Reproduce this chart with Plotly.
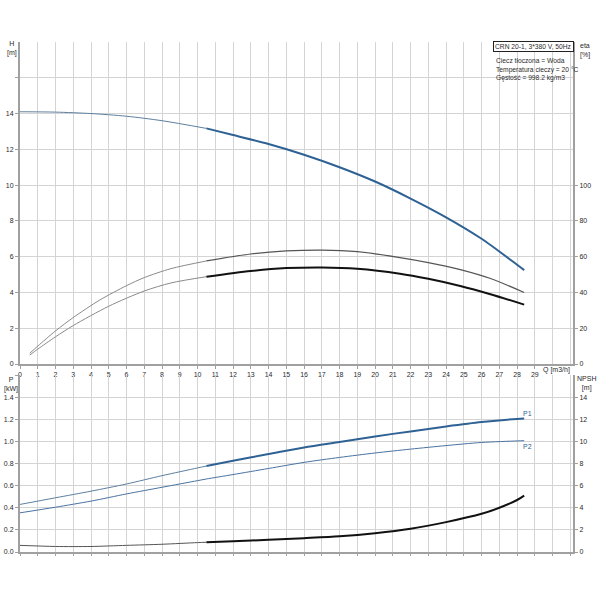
import numpy as np
import plotly.graph_objects as go

# ---------------- data ----------------
q_h = [0, 2, 4, 6, 8, 10.5, 12, 14, 16, 18, 20, 22, 24, 26, 28, 28.4]
h_vals = [14.1, 14.08, 14.0, 13.85, 13.6, 13.17, 12.8, 12.3, 11.7, 11.0, 10.2, 9.25, 8.2, 7.0, 5.55, 5.25]

q_e1 = [0.55, 1, 2, 3, 4.5, 6, 7, 8.5, 10.5, 13, 15, 17, 19, 21.4, 23, 24.8, 26.5, 28.4]
eta1 = [6, 10, 18.5, 26, 35.8, 43.8, 48.3, 53.3, 57.6, 61.5, 63.2, 63.7, 62.8, 59.5, 56.7, 52.8, 47.8, 40.0]

q_e2 = [0.55, 1, 2, 3, 5, 7, 8.5, 10.5, 13, 15, 17, 19, 21.4, 23, 24.8, 26.5, 28.4]
eta2 = [5, 8.3, 15.2, 21.5, 32.3, 40.8, 45.3, 48.8, 52.0, 53.6, 54.0, 53.3, 50.5, 47.6, 43.6, 39.0, 33.2]

q_p = [0, 2, 4, 6, 8, 10, 10.5, 12, 14, 16, 18, 20, 22, 24, 26, 28, 28.4]
p1 = [0.43, 0.49, 0.55, 0.615, 0.69, 0.76, 0.777, 0.825, 0.885, 0.945, 0.995, 1.045, 1.09, 1.135, 1.175, 1.203, 1.206]
p2 = [0.354, 0.405, 0.46, 0.525, 0.585, 0.645, 0.66, 0.70, 0.755, 0.81, 0.855, 0.895, 0.93, 0.962, 0.99, 1.004, 1.006]

q_n = [0, 2, 4, 6, 8, 10, 10.5, 12, 14, 16, 18, 20, 22, 24, 26, 27, 28, 28.4]
npsh = [0.6, 0.5, 0.5, 0.6, 0.7, 0.85, 0.88, 0.98, 1.1, 1.25, 1.42, 1.7, 2.1, 2.7, 3.45, 4.0, 4.7, 5.1]

x_ticks = list(range(0, 30))
h_ticks = [0, 2, 4, 6, 8, 10, 12, 14, 16]
eta_ticks = [0, 20, 40, 60, 80, 100]
p_ticks = [0.0, 0.2, 0.4, 0.6, 0.8, 1.0, 1.2, 1.4, 1.6]
npsh_ticks = [0, 2, 4, 6, 8, 10, 12, 14]

Q_SPLIT = 10.5

# ---------------- layout helpers (window pixels) ----------------
FW = FH = 600
L, R, T, B = 20, 27, 42, 48
W = FW - L - R
HH = FH - T - B


def px(x):
    return (x - L) / W


def py(y):
    return (FH - B - y) / HH


def split(q, v):
    q = np.asarray(q, float)
    v = np.asarray(v, float)
    a = q <= Q_SPLIT
    b = q >= Q_SPLIT
    return (q[a], v[a]), (q[b], v[b])


fig = go.Figure()

BLUE = "#2f6294"
THIN_BLUE = "#5d7f9f"


def add(q, v, color, width, xa, ya, name):
    fig.add_trace(go.Scatter(x=q, y=v, mode="lines",
                             line=dict(color=color, width=width, shape="spline", smoothing=0.8),
                             xaxis=xa, yaxis=ya, showlegend=False, hoverinfo="skip", name=name))


(a, b) = split(q_h, h_vals)
add(*a, THIN_BLUE, 1, "x", "y", "H")
add(*b, BLUE, 2, "x", "y", "H")

(a, b) = split(q_e1, eta1)
add(*a, "#8a8a8a", 1, "x", "y2", "eta1")
add(*b, "#555555", 1.2, "x", "y2", "eta1")

(a, b) = split(q_e2, eta2)
add(*a, "#8a8a8a", 1, "x", "y2", "eta2")
add(*b, "#111111", 2, "x", "y2", "eta2")

(a, b) = split(q_p, p1)
add(*a, THIN_BLUE, 1, "x2", "y3", "P1")
add(*b, BLUE, 2, "x2", "y3", "P1")

add(q_p, p2, "#4a72a0", 1, "x2", "y3", "P2")

(a, b) = split(q_n, npsh)
add(*a, "#555555", 1, "x2", "y4", "NPSH")
add(*b, "#111111", 2, "x2", "y4", "NPSH")

FONT = dict(family="Liberation Sans, Arial, sans-serif", size=7, color="#2a2a2a")
SMALL = dict(family="Liberation Sans, Arial, sans-serif", size=6.7, color="#2a2a2a")
GRID = "#d4d4d4"
AXL = "#a0a0a0"

top_dom = [py(364), 1.0]
bot_dom = [0.0, py(375)]
xr = [0, 31.15]

common = dict(automargin=False, zeroline=False, tickfont=FONT)

fig.update_layout(
    width=FW, height=FH,
    margin=dict(l=L, r=R, t=T, b=B, autoexpand=False),
    paper_bgcolor="white", plot_bgcolor="white",
    font=FONT,
    xaxis=dict(domain=[0, 1], range=xr, anchor="y", tickvals=x_ticks, ticktext=[str(v) for v in x_ticks],
               showgrid=False, showline=True, linecolor=AXL, linewidth=2, ticks="outside", ticklen=3,
               tickcolor=AXL, **common),
    xaxis3=dict(domain=[0, 1], range=xr, anchor="y", overlaying="x", dtick=1, tick0=0, showticklabels=False,
                showgrid=True, gridcolor=GRID, gridwidth=1, showline=False, ticks="", **common),
    yaxis=dict(domain=top_dom, range=[0, 18], anchor="x", tickvals=h_ticks,
               ticktext=[str(v) if v <= 14 else "" for v in h_ticks],
               showgrid=True, gridcolor=GRID, showline=True, linecolor=AXL, linewidth=2,
               ticks="outside", ticklen=3, tickcolor=AXL, **common),
    yaxis2=dict(overlaying="y", side="right", range=[0, 180], anchor="x", tickvals=eta_ticks,
                showgrid=False, showline=True, linecolor=AXL, linewidth=2,
                ticks="outside", ticklen=3, tickcolor=AXL, **common),
    xaxis2=dict(domain=[0, 1], range=xr, anchor="y3", dtick=1, tick0=0, showticklabels=False,
                showgrid=True, gridcolor=GRID, showline=True, linecolor=AXL, linewidth=2,
                ticks="outside", ticklen=2, tickcolor=AXL, **common),
    yaxis3=dict(domain=bot_dom, range=[0, 1.6], anchor="x2", tickvals=p_ticks,
                ticktext=["%.1f" % v if v < 1.5 else "" for v in p_ticks],
                showgrid=True, gridcolor=GRID, showline=True, linecolor=AXL, linewidth=2,
                ticks="outside", ticklen=3, tickcolor=AXL, **common),
    yaxis4=dict(overlaying="y3", side="right", range=[0, 16], anchor="x2", tickvals=npsh_ticks,
                showgrid=False, showline=True, linecolor=AXL, linewidth=2,
                ticks="outside", ticklen=3, tickcolor=AXL, **common),
)

# invisible helper trace so the grid axis (x3) is drawn
fig.add_trace(go.Scatter(x=[0], y=[0], xaxis="x3", yaxis="y", mode="markers",
                         marker=dict(opacity=0), showlegend=False, hoverinfo="skip"))

ann = []


def note(text, x, y, xanchor="center", yanchor="middle", align="center", font=FONT, **kw):
    ann.append(dict(text=text, x=px(x), y=py(y), xref="paper", yref="paper", showarrow=False,
                    xanchor=xanchor, yanchor=yanchor, align=align, font=font, **kw))


note("H<br>[m]", 12, 49)
note("eta<br>[%]", 578, 50, xanchor="left", align="left")
note("Q [m3/h]", 572, 370, xanchor="right")
note("P<br>[kW]", 11, 384)
note("NPSH<br>[m]", 598, 383, xanchor="right")
note("CRN 20-1, 3*380 V, 50Hz", 574, 41, xanchor="right", yanchor="top", font=SMALL,
     bordercolor="#222222", borderwidth=1, borderpad=1, bgcolor="white")
note("Ciecz tłoczona = Woda<br>Temperatura cieczy = 20 °C<br>Gęstość = 998.2 kg/m3", 494, 55,
     xanchor="left", yanchor="top", align="left", font=SMALL)

ann.append(dict(text="P1", x=q_p[-1] + 0.2, y=p1[-1], xref="x2", yref="y3", showarrow=False,
                xanchor="center", yanchor="bottom", font=dict(family=FONT["family"], size=7, color=BLUE)))
ann.append(dict(text="P2", x=q_p[-1] + 0.2, y=p2[-1], xref="x2", yref="y3", showarrow=False,
                xanchor="center", yanchor="top", font=dict(family=FONT["family"], size=7, color=BLUE)))

fig.update_layout(annotations=ann)

# remove the default page margin so the 600x600 figure fills the window exactly
fig.write_html("out.html", config={"displayModeBar": False},
               post_script="document.body.style.margin='0px';")
